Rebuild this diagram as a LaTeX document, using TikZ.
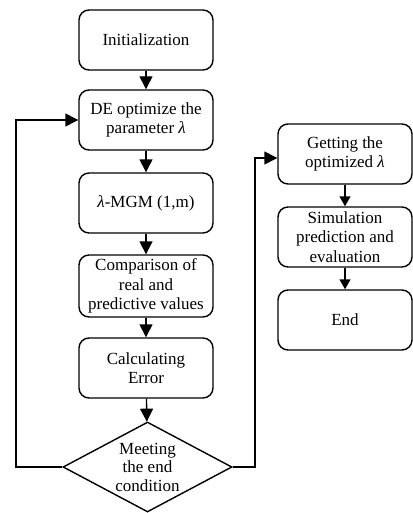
\documentclass[tikz,border=0pt]{standalone}
\usepackage{fontspec}
\setmainfont{Liberation Serif}
\usetikzlibrary{arrows.meta,shapes.geometric}
\begin{document}
\begin{tikzpicture}[x=1pt,y=-1pt,
    box/.style={draw,line width=1.4pt,rounded corners=10pt,minimum width=134pt,
        minimum height=60pt,inner sep=0pt,align=center,font=\fontsize{17}{19.5}\selectfont},
    arr/.style={line width=1.4pt,-{Triangle[length=13pt,width=13pt]}},
    arrsmall/.style={line width=1.4pt,-{Triangle[length=10pt,width=11pt]}}]
    \useasboundingbox (0,0) rectangle (412,513);
    % left column
    \node[box] (init) at (146,40) {Initialization};
    \node[box] (de) at (146,120) {DE optimize the\\parameter \textit{λ}};
    \node[box] (mgm) at (146,203) {\textit{λ}-MGM (1,m)};
    \node[box,minimum height=62pt] (comp) at (146,286) {Comparison of\\real and\\predictive values};
    \node[box] (calc) at (146,368) {Calculating\\Error};
    \node[draw,diamond,line width=1.4pt,minimum width=169pt,minimum height=90pt,inner sep=0pt] (cond) at (147.5,467) {};
    \node[align=center,font=\fontsize{17}{18.5}\selectfont] (condtext) at (cond) {Meeting\\the end\\condition};
    % right column
    \node[box] (get) at (345,154) {Getting the\\optimized \textit{λ}};
    \node[box] (sim) at (345,237) {Simulation\\prediction and\\evaluation};
    \node[box] (end) at (345,320) {End};
    % connectors
    \draw[arr] (init) -- (de);
    \draw[arr] (de) -- (mgm);
    \draw[arr] (mgm) -- (comp);
    \draw[arr] (comp) -- (calc);
    \draw[arr] (calc) -- (cond);
    \draw[arr] (cond.west) -- (16,467) |- (de.west);
    \draw[arr] (cond.east) -- (255,467) |- ([yshift=-4pt]get.west);
    \draw[arrsmall] (get) -- (sim);
    \draw[arrsmall] (sim) -- (end);
\end{tikzpicture}
\end{document}
